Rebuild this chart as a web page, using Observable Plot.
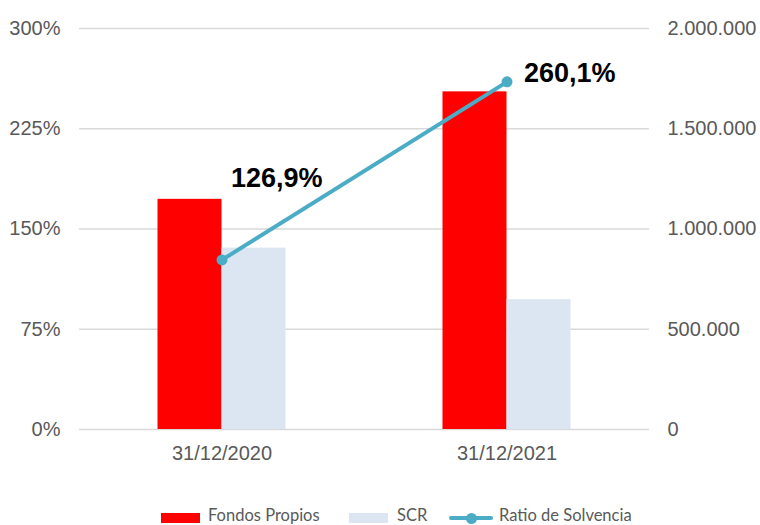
<!DOCTYPE html>
<html>
<head>
<meta charset="utf-8">
<script src="https://cdn.jsdelivr.net/npm/d3@7"></script>
<script src="https://cdn.jsdelivr.net/npm/@observablehq/plot@0.6"></script>
<style>
  html, body { margin: 0; padding: 0; background: #fff; }
  #chart svg { display: block; }
  .legend { position: relative; width: 760px; height: 25px; font-family: Lato, "Liberation Sans", Arial, sans-serif; font-size: 16.5px; color: #595959; }
  .legend .sw { position: absolute; }
  .legend .tx { position: absolute; top: 6px; line-height: 19px; white-space: nowrap; }
</style>
</head>
<body>
<div id="chart"></div>
<div class="legend" id="legend"></div>
<script>
const dates = ["31/12/2020", "31/12/2021"];
const fondosPropios = [1148000, 1684000];
const scr = [904600, 647400];
const ratio = [126.9, 260.1];
const leftTicks = [0, 75, 150, 225, 300];
const rightTicks = [0, 500000, 1000000, 1500000, 2000000];
const leftMax = 300;
const rightMax = 2000000;
const seriesNames = ["Fondos Propios", "SCR", "Ratio de Solvencia"];
const colors = ["#FF0000", "#DCE6F2", "#4BACC6"];

const toLeft = v => v / rightMax * leftMax;
const fmtThousands = v => d3.format(",")(v).replace(/,/g, ".");
const fmtPct = v => d3.format(".1f")(v).replace(".", ",") + "%";

const rows = dates.map((d, i) => ({date: d, fp: fondosPropios[i], scr: scr[i], ratio: ratio[i]}));

const plot = Plot.plot({
  width: 760,
  height: 500,
  marginLeft: 79,
  marginRight: 111,
  marginTop: 28,
  marginBottom: 71,
  style: {fontFamily: "'Liberation Sans', Arial, sans-serif", fontSize: "20px", color: "#595959", background: "#fff"},
  x: {domain: dates, padding: 0},
  y: {domain: [0, leftMax]},
  marks: [
    Plot.ruleY(leftTicks, {stroke: "#D9D9D9", strokeWidth: 1.3}),
    Plot.barY(rows, {x: "date", y: d => toLeft(d.fp), fill: colors[0], insetLeft: 78.5, insetRight: 142.5}),
    Plot.barY(rows, {x: "date", y: d => toLeft(d.scr), fill: colors[1], insetLeft: 142.5, insetRight: 78.5}),
    Plot.line(rows, {x: "date", y: "ratio", stroke: colors[2], strokeWidth: 4}),
    Plot.dot(rows, {x: "date", y: "ratio", r: 5.5, fill: colors[2], stroke: "none"}),
    Plot.text(rows.filter((d, i) => i === 0), {x: "date", y: "ratio", text: d => fmtPct(d.ratio), textAnchor: "start", dx: 9, dy: -82, fontSize: 27, fontWeight: "bold", fill: "#000"}),
    Plot.text(rows.filter((d, i) => i === 1), {x: "date", y: "ratio", text: d => fmtPct(d.ratio), textAnchor: "start", dx: 17, dy: -8, fontSize: 27, fontWeight: "bold", fill: "#000"}),
    Plot.axisY(leftTicks, {anchor: "left", tickSize: 0, tickPadding: 19, tickFormat: d => d + "%", label: null}),
    Plot.axisY(rightTicks.map(toLeft), {anchor: "right", tickSize: 0, tickPadding: 18, tickFormat: d => fmtThousands(Math.round(d / leftMax * rightMax)), label: null}),
    Plot.axisX({tickSize: 0, tickPadding: 16, label: null})
  ]
});
document.getElementById("chart").appendChild(plot);

// legend
const lg = document.getElementById("legend");
const items = [
  {type: "rect", color: colors[0], sx: 161, sw: 39, tx: 208, name: seriesNames[0]},
  {type: "rect", color: colors[1], sx: 349, sw: 39, tx: 397, name: seriesNames[1]},
  {type: "line", color: colors[2], sx: 449, sw: 44, tx: 499, name: seriesNames[2]}
];
for (const it of items) {
  const sw = document.createElement("div");
  sw.className = "sw";
  if (it.type === "rect") {
    Object.assign(sw.style, {left: it.sx + "px", top: "13px", width: it.sw + "px", height: "10px", background: it.color});
  } else {
    Object.assign(sw.style, {left: it.sx + "px", top: "16px", width: it.sw + "px", height: "4px", background: it.color, borderRadius: "2px"});
    const dot = document.createElement("div");
    dot.className = "sw";
    Object.assign(dot.style, {left: (it.sx + it.sw / 2 - 5.5) + "px", top: "12.5px", width: "11px", height: "11px", background: it.color, borderRadius: "50%"});
    lg.appendChild(dot);
  }
  lg.appendChild(sw);
  const t = document.createElement("div");
  t.className = "tx";
  t.style.left = it.tx + "px";
  t.textContent = it.name;
  lg.appendChild(t);
}
</script>
</body>
</html>
